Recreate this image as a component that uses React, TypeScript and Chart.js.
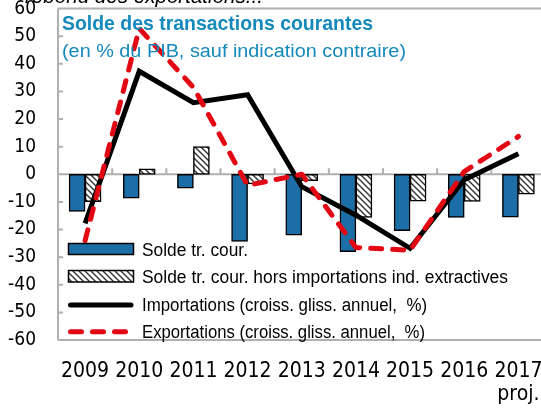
import React, { useEffect, useRef } from "react";
import { Chart, registerables } from "chart.js";

Chart.register(...registerables);

const years: (string | string[])[] = ["2009", "2010", "2011", "2012", "2013", "2014", "2015", "2016", ["2017", "proj."]];
const soldeTrCour = [-13.4, -8.6, -5, -24.3, -22, -28, -20.4, -15.6, -15.5];
const soldeHorsImport = [-9.9, 2, 10, -3.5, -2.3, -15.6, -9.7, -9.8, -7.2];
const importations = [-17.8, 37.3, 25.9, 28.8, -4.5, -14.8, -26.8, -2, 7.4];
const exportations = [-24, 52.8, 31.5, -4, 0, -26.5, -27.5, 1, 13.7];
const yTicks = [60, 50, 40, 30, 20, 10, 0, -10, -20, -30, -40, -50, -60];

const legendLabels = [
  "Solde tr. cour.",
  "Solde tr. cour. hors importations ind. extractives",
  "Importations (croiss. gliss. annuel,  %)",
  "Exportations (croiss. gliss. annuel,  %)",
];
const titleText = "Solde des transactions courantes";
const subtitleText = "(en % du PIB, sauf indication contraire)";
const topCaption = "rebond des exportations...";

const BLUE = "#1c6fa6";
const TITLE_COLOR = "#1489bb";
const RED = "#e30613";
const AXIS_GRAY = "#b0b0b0";
const TICK_FONT = "'Liberation Sans Narrow', 'DejaVu Sans Condensed', 'Liberation Sans', sans-serif";
const TEXT_FONT = "'Liberation Sans', 'Noto Sans', sans-serif";

function makeHatch(): CanvasPattern {
  const c = document.createElement("canvas");
  c.width = 6;
  c.height = 6;
  const g = c.getContext("2d")!;
  g.fillStyle = "#fff";
  g.fillRect(0, 0, 6, 6);
  g.strokeStyle = "#333";
  g.lineWidth = 1.4;
  g.beginPath();
  g.moveTo(-1, -1);
  g.lineTo(7, 7);
  g.moveTo(-1, 5);
  g.lineTo(1, 7);
  g.moveTo(5, -1);
  g.lineTo(7, 1);
  g.stroke();
  return g.createPattern(c, "repeat")!;
}

function fitText(ctx: CanvasRenderingContext2D, text: string, x: number, y: number, font: string, color: string, width: number) {
  ctx.save();
  ctx.font = font;
  const w = ctx.measureText(text).width;
  ctx.translate(x, y);
  ctx.scale(width / w, 1);
  ctx.fillStyle = color;
  ctx.textAlign = "left";
  ctx.textBaseline = "alphabetic";
  ctx.fillText(text, 0, 0);
  ctx.restore();
}

export default function App() {
  const ref = useRef<HTMLCanvasElement | null>(null);

  useEffect(() => {
    const canvas = ref.current;
    if (!canvas) return;
    const hatch = makeHatch();

    const axesPlugin = {
      id: "axesDeco",
      beforeDatasetsDraw(chart: any) {
        const { ctx, chartArea } = chart;
        const { left, right, top, bottom } = chartArea;
        const yS = chart.scales.y;
        const W = 541;
        ctx.save();
        ctx.strokeStyle = AXIS_GRAY;
        ctx.lineWidth = 2;
        ctx.beginPath();
        ctx.moveTo(left, top);
        ctx.lineTo(W, top);
        ctx.moveTo(left, bottom);
        ctx.lineTo(W, bottom);
        ctx.moveTo(left, top);
        ctx.lineTo(left, bottom);
        yTicks.forEach((v) => {
          const y = yS.getPixelForValue(v);
          ctx.moveTo(left, y);
          ctx.lineTo(left + 5, y);
        });
        const y0 = yS.getPixelForValue(0);
        ctx.moveTo(left, y0);
        ctx.lineTo(W, y0);
        const n = years.length;
        const cw = (right - left) / n;
        for (let i = 1; i <= n; i++) {
          const x = left + i * cw;
          ctx.moveTo(x, y0);
          ctx.lineTo(x, y0 - 6);
        }
        ctx.stroke();
        ctx.restore();
      },
    };

    const overlayPlugin = {
      id: "overlayText",
      afterDraw(chart: any) {
        const ctx: CanvasRenderingContext2D = chart.ctx;
        fitText(ctx, topCaption, 25, 3, `italic 20px ${TEXT_FONT}`, "#000", 238);
        fitText(ctx, titleText, 62, 30, `bold 21px ${TEXT_FONT}`, TITLE_COLOR, 311);
        fitText(ctx, subtitleText, 62, 57.3, `18px ${TEXT_FONT}`, TITLE_COLOR, 344);

        ctx.save();
        ctx.lineWidth = 1.5;
        ctx.strokeStyle = "#000";
        ctx.fillStyle = BLUE;
        ctx.fillRect(68.5, 243.5, 65, 11);
        ctx.strokeRect(68.5, 243.5, 65, 11);
        ctx.fillStyle = hatch;
        ctx.fillRect(68.5, 270.5, 65, 11.5);
        ctx.strokeRect(68.5, 270.5, 65, 11.5);
        ctx.lineCap = "round";
        ctx.lineWidth = 5;
        ctx.beginPath();
        ctx.moveTo(70.5, 305);
        ctx.lineTo(131, 305);
        ctx.stroke();
        ctx.strokeStyle = RED;
        ctx.setLineDash([11, 11]);
        ctx.beginPath();
        ctx.moveTo(70.5, 331.7);
        ctx.lineTo(126, 331.7);
        ctx.stroke();
        ctx.restore();

        const lf = `18px ${TEXT_FONT}`;
        fitText(ctx, legendLabels[0], 142, 256, lf, "#000", 106);
        fitText(ctx, legendLabels[1], 142, 282.7, lf, "#000", 366);
        fitText(ctx, legendLabels[2], 142, 310.5, lf, "#000", 285);
        fitText(ctx, legendLabels[3], 142, 338.3, lf, "#000", 283);
      },
    };

    const chart = new Chart(canvas, {
      type: "bar",
      data: {
        labels: years as any,
        datasets: [
          {
            type: "line",
            label: legendLabels[3],
            data: exportations,
            borderColor: RED,
            borderWidth: 5,
            borderDash: [11, 11],
            borderCapStyle: "round",
            borderJoinStyle: "round",
            pointRadius: 0,
            tension: 0,
            fill: false,
            order: 0,
          } as any,
          {
            type: "line",
            label: legendLabels[2],
            data: importations,
            borderColor: "#000",
            borderWidth: 5,
            borderJoinStyle: "miter",
            pointRadius: 0,
            tension: 0,
            fill: false,
            order: 1,
          } as any,
          {
            type: "bar",
            label: legendLabels[0],
            data: soldeTrCour,
            backgroundColor: BLUE,
            borderColor: "#000",
            borderWidth: 1.5,
            borderSkipped: false,
            barThickness: 16,
            order: 2,
          },
          {
            type: "bar",
            label: legendLabels[1],
            data: soldeHorsImport,
            backgroundColor: hatch as any,
            borderColor: "#000",
            borderWidth: 1.5,
            borderSkipped: false,
            barThickness: 16,
            order: 2,
          },
        ],
      },
      options: {
        responsive: false,
        maintainAspectRatio: false,
        animation: false,
        devicePixelRatio: 1,
        layout: { padding: { left: 0, right: 34.5, top: 8.6, bottom: 0 } },
        plugins: {
          legend: { display: false },
          title: { display: false },
          tooltip: { enabled: false },
        },
        scales: {
          x: {
            grid: { display: false, drawTicks: false },
            border: { display: false },
            ticks: {
              color: "#000",
              font: { family: TICK_FONT, size: 21, lineHeight: 1.1 },
              padding: 20,
              maxRotation: 0,
              autoSkip: false,
            },
            afterFit(scale: any) {
              scale.height = 71;
              scale.paddingLeft = 0;
              scale.paddingRight = 0;
            },
          },
          y: {
            min: -60,
            max: 60,
            grid: { display: false, drawTicks: false },
            border: { display: false },
            ticks: {
              stepSize: 10,
              color: "#000",
              font: { family: TICK_FONT, size: 19, lineHeight: 0.9 },
              padding: 22,
            },
            afterFit(scale: any) {
              scale.width = 58;
              scale.paddingTop = 0;
              scale.paddingBottom = 0;
            },
          },
        },
      },
      plugins: [axesPlugin, overlayPlugin],
    });

    return () => chart.destroy();
  }, []);

  return (
    <div style={{ position: "fixed", left: 0, top: 0, width: 541, height: 411, overflow: "hidden", background: "#fff" }}>
      <canvas ref={ref} width={580} height={411} style={{ display: "block", width: 580, height: 411 }} />
    </div>
  );
}
